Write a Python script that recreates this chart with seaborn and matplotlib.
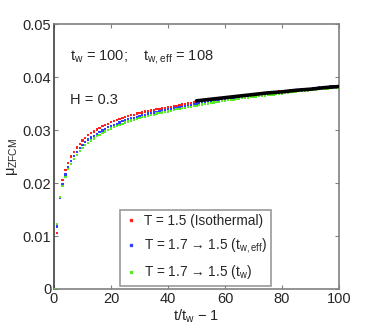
import matplotlib
matplotlib.use("Agg")
import matplotlib.pyplot as plt
import seaborn as sns
import pandas as pd
from matplotlib.lines import Line2D

# ---------------- data ----------------
t_scaled = list(range(0, 101))

mu_iso = [0.0000, 0.0106, 0.0173, 0.0206, 0.0225, 0.0238, 0.0250, 0.0259, 0.0267, 0.0274,
          0.0280, 0.0285, 0.0290, 0.0294, 0.0297, 0.0301, 0.0304, 0.0307, 0.0310, 0.0312,
          0.0315, 0.0317, 0.0319, 0.0321, 0.0323, 0.0325, 0.0326, 0.0328, 0.0329, 0.0331,
          0.0332, 0.0333, 0.0335, 0.0336, 0.0337, 0.0338, 0.0339, 0.0340, 0.0341, 0.0342,
          0.0343, 0.0344, 0.0345, 0.0346, 0.0347, 0.0348, 0.0349, 0.0350, 0.0351, 0.0352,
          0.0353, 0.0354, 0.0355, 0.0355, 0.0356, 0.0357, 0.0358, 0.0359, 0.0359, 0.0360,
          0.0361, 0.0362, 0.0362, 0.0363, 0.0364, 0.0364, 0.0365, 0.0366, 0.0366, 0.0367,
          0.0367, 0.0368, 0.0369, 0.0369, 0.0370, 0.0370, 0.0371, 0.0372, 0.0372, 0.0373,
          0.0373, 0.0374, 0.0374, 0.0375, 0.0375, 0.0376, 0.0376, 0.0377, 0.0377, 0.0378,
          0.0378, 0.0379, 0.0379, 0.0380, 0.0380, 0.0381, 0.0381, 0.0382, 0.0382, 0.0382,
          0.0382]

mu_teff = [0.0000, 0.0118, 0.0172, 0.0198, 0.0216, 0.0230, 0.0241, 0.0251, 0.0259, 0.0266,
           0.0272, 0.0277, 0.0282, 0.0286, 0.0289, 0.0293, 0.0296, 0.0299, 0.0302, 0.0305,
           0.0307, 0.0310, 0.0312, 0.0314, 0.0317, 0.0319, 0.0320, 0.0322, 0.0323, 0.0325,
           0.0326, 0.0328, 0.0329, 0.0331, 0.0332, 0.0333, 0.0334, 0.0335, 0.0337, 0.0338,
           0.0339, 0.0340, 0.0341, 0.0342, 0.0343, 0.0344, 0.0345, 0.0346, 0.0347, 0.0349,
           0.0350, 0.0351, 0.0352, 0.0353, 0.0354, 0.0355, 0.0356, 0.0357, 0.0357, 0.0358,
           0.0359, 0.0360, 0.0360, 0.0361, 0.0362, 0.0363, 0.0363, 0.0364, 0.0365, 0.0365,
           0.0366, 0.0367, 0.0367, 0.0368, 0.0369, 0.0369, 0.0370, 0.0371, 0.0371, 0.0372,
           0.0372, 0.0373, 0.0374, 0.0374, 0.0375, 0.0375, 0.0376, 0.0376, 0.0377, 0.0378,
           0.0378, 0.0379, 0.0379, 0.0380, 0.0380, 0.0381, 0.0381, 0.0382, 0.0382, 0.0383,
           0.0383]

mu_tw = [0.0000, 0.0123, 0.0173, 0.0194, 0.0212, 0.0226, 0.0236, 0.0245, 0.0253, 0.0260,
         0.0266, 0.0271, 0.0276, 0.0280, 0.0284, 0.0288, 0.0291, 0.0294, 0.0297, 0.0300,
         0.0303, 0.0305, 0.0308, 0.0310, 0.0312, 0.0314, 0.0316, 0.0318, 0.0319, 0.0321,
         0.0322, 0.0324, 0.0325, 0.0327, 0.0328, 0.0329, 0.0331, 0.0332, 0.0333, 0.0334,
         0.0335, 0.0336, 0.0338, 0.0339, 0.0340, 0.0341, 0.0342, 0.0343, 0.0344, 0.0345,
         0.0346, 0.0347, 0.0348, 0.0349, 0.0350, 0.0351, 0.0352, 0.0353, 0.0353, 0.0354,
         0.0355, 0.0356, 0.0357, 0.0357, 0.0358, 0.0359, 0.0360, 0.0360, 0.0361, 0.0362,
         0.0362, 0.0363, 0.0364, 0.0364, 0.0365, 0.0366, 0.0366, 0.0367, 0.0368, 0.0368,
         0.0369, 0.0370, 0.0370, 0.0371, 0.0371, 0.0372, 0.0373, 0.0373, 0.0374, 0.0374,
         0.0375, 0.0376, 0.0376, 0.0377, 0.0377, 0.0378, 0.0378, 0.0379, 0.0379, 0.0380,
         0.0380]

fit_t = [50, 55, 60, 65, 70, 75, 80, 85, 90, 95, 100]
fit_mu = [0.0355, 0.0358, 0.0361, 0.0364, 0.0367, 0.0370, 0.0372, 0.0375, 0.0377, 0.0380, 0.0382]

series_labels = ["T = 1.5 (Isothermal)",
                 "T = 1.7 \u2192 1.5 (t$_{\\mathrm{w,eff}}$)",
                 "T = 1.7 \u2192 1.5 (t$_{\\mathrm{w}}$)"]
series_colors = ["#ff2020", "#3040ff", "#55ee22"]

x_ticks = [0, 20, 40, 60, 80, 100]
y_ticks = [0, 0.01, 0.02, 0.03, 0.04, 0.05]
y_ticklabels = ["0", "0.01", "0.02", "0.03", "0.04", "0.05"]

# ---------------- style ----------------
sns.set_style("white")
plt.rcParams["font.family"] = ["Liberation Sans", "DejaVu Sans"]
plt.rcParams["mathtext.fontset"] = "custom"
plt.rcParams["mathtext.rm"] = "Liberation Sans"
plt.rcParams["mathtext.it"] = "Liberation Sans"
plt.rcParams["mathtext.bf"] = "Liberation Sans:bold"

frames = []
for lab, ys in zip(series_labels, [mu_iso, mu_teff, mu_tw]):
    frames.append(pd.DataFrame({"t": t_scaled, "mu": ys, "series": lab}))
df = pd.concat(frames, ignore_index=True)

fig = plt.figure(figsize=(3.74, 3.32), dpi=100)
ax = fig.add_axes([54 / 374, 1 - 289 / 332, 285 / 374, 265 / 332])

sns.scatterplot(data=df, x="t", y="mu", hue="series", hue_order=series_labels,
                palette=series_colors, marker="s", s=2.6, linewidth=0, ax=ax,
                legend=False, zorder=3)
sns.lineplot(x=fit_t, y=fit_mu, color="black", linewidth=2.6, ax=ax, zorder=4)

ax.set_xlim(0, 100)
ax.set_ylim(0, 0.05)
ax.set_xticks(x_ticks)
ax.set_yticks(y_ticks)
ax.set_yticklabels(y_ticklabels)
ax.tick_params(direction="in", length=3, width=0.8, color="#808080",
               labelsize=10.5, pad=2, top=True, right=True, bottom=True, left=True)
for side, sp in ax.spines.items():
    sp.set_visible(True)
    sp.set_color("#808080")
    sp.set_linewidth(1.2)
ax.spines["left"].set_color("#404040")

ax.set_xlabel(r"t/t$_{\mathrm{w}}$ $-$ 1", fontsize=10.5, labelpad=1)
ax.set_ylabel(r"$\mu_{\mathrm{ZFCM}}$", fontsize=10.5, labelpad=2)

ax.text(5.5, 0.0437, r"t$_{\mathrm{w}}$ = 100;    t$_{\mathrm{w,eff}}$ = 108",
        fontsize=10.5, va="center", ha="left")
ax.text(5.5, 0.0357, "H = 0.3", fontsize=10.5, va="center", ha="left")

handles = [Line2D([], [], linestyle="none", marker="s", markersize=1.8,
                  markerfacecolor=c, markeredgecolor=c) for c in series_colors]
leg = ax.legend(handles, series_labels, loc="lower right",
                bbox_to_anchor=(0.762, 0.013), fontsize=9.8, frameon=True,
                fancybox=False, handlelength=1.0, handletextpad=0.45,
                borderpad=0.3, labelspacing=0.6, borderaxespad=0)
leg.get_frame().set_edgecolor("#808080")
leg.get_frame().set_linewidth(1.2)

fig.savefig("out.png", dpi=100)
